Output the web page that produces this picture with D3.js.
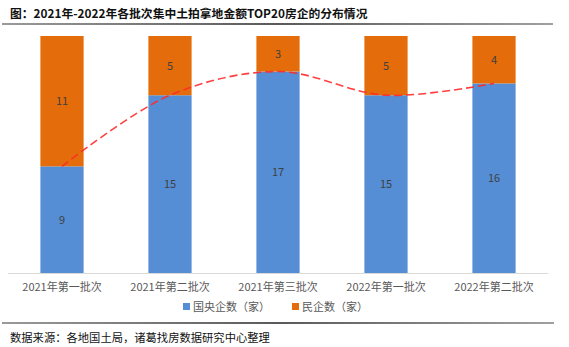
<!DOCTYPE html>
<html><head><meta charset="utf-8">
<script src="https://cdn.jsdelivr.net/npm/d3@7"></script>
<style>
html,body{margin:0;padding:0;background:#fff;}
svg{display:block;font-family:"Noto Sans CJK SC","Noto Sans",sans-serif;}
</style></head>
<body>
<svg id="c" width="569" height="347"></svg>
<script>
const title = "图：2021年-2022年各批次集中土拍拿地金额TOP20房企的分布情况";
const source = "数据来源：各地国土局，诸葛找房数据研究中心整理";
const categories = ["2021年第一批次","2021年第二批次","2021年第三批次","2022年第一批次","2022年第二批次"];
const seriesNames = ["国央企数（家）","民企数（家）"];
const stateOwned = [9,15,17,15,16];
const privateCo = [11,5,3,5,4];
const colors = ["#558ED5","#E46C0A"];

const svg = d3.select("#c");
const defs = svg.append("defs");
const g1 = defs.append("linearGradient").attr("id","rule").attr("x1","0").attr("x2","1");
g1.append("stop").attr("offset","0").attr("stop-color","#9a9a9a");
g1.append("stop").attr("offset","0.5").attr("stop-color","#5a5a5a");
g1.append("stop").attr("offset","1").attr("stop-color","#a0a0a0");

// title
svg.append("text").attr("x",10).attr("y",18).attr("font-size","11.8px").attr("font-weight","bold")
  .attr("fill","#111").text(title);
svg.append("rect").attr("x",2).attr("y",23).attr("width",551).attr("height",2).attr("fill","url(#rule)");

const x = d3.scaleBand().domain(categories).range([8,548]);
const y = d3.scaleLinear().domain([0,20]).range([273,36]);
const bw = x.bandwidth()*0.4;

const stackData = categories.map((c,i)=>({cat:c, a:stateOwned[i], b:privateCo[i]}));
const stack = d3.stack().keys(["a","b"])(stackData);

stack.forEach((layer,k)=>{
  const gg = svg.append("g");
  gg.selectAll("rect").data(layer).enter().append("rect")
    .attr("x",d=>x(d.data.cat)+x.bandwidth()/2-bw/2)
    .attr("width",bw)
    .attr("y",d=>y(d[1]))
    .attr("height",d=>y(d[0])-y(d[1]))
    .attr("fill",colors[k]);
  gg.selectAll("text").data(layer).enter().append("text")
    .attr("x",d=>x(d.data.cat)+x.bandwidth()/2)
    .attr("y",d=>(y(d[0])+y(d[1]))/2+4)
    .attr("text-anchor","middle").attr("font-size","11px").attr("fill","#404040")
    .text(d=>d[1]-d[0]);
});

// axis
const ax = svg.append("g").attr("transform","translate(0,273)").call(d3.axisBottom(x).tickSize(0).tickPadding(10));
ax.select(".domain").attr("stroke","#d9d9d9").attr("d","M8,0.5H548");
ax.selectAll("text").attr("font-size","11px").attr("fill","#595959").attr("font-family","\"Noto Sans CJK SC\",sans-serif");

// dashed trend line
const line = d3.line().x((d,i)=>x(categories[i])+x.bandwidth()/2).y(d=>y(d)).curve(d3.curveCatmullRom.alpha(0.5));
svg.append("path").attr("d",line(stateOwned)).attr("fill","none").attr("stroke","#ff2a2a")
  .attr("stroke-width",1.6).attr("stroke-dasharray","8,4").attr("opacity",0.9);

// legend
const leg = svg.append("g");
const lx = [183,292];
seriesNames.forEach((n,i)=>{
  leg.append("rect").attr("x",lx[i]).attr("y",303).attr("width",7).attr("height",7).attr("fill",colors[i]);
  leg.append("text").attr("x",lx[i]+10).attr("y",311).attr("font-size","11px").attr("fill","#595959").text(n);
});

svg.append("rect").attr("x",2).attr("y",322).attr("width",552).attr("height",2).attr("fill","url(#rule)");
svg.append("text").attr("x",10).attr("y",342).attr("font-size","11.3px").attr("fill","#111").text(source);
</script>
</body></html>
